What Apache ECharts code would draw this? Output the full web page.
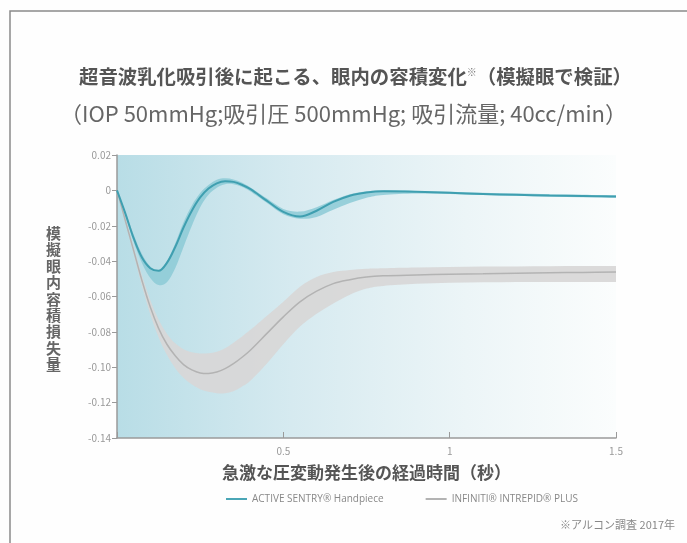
<!DOCTYPE html>
<html>
<head>
<meta charset="utf-8">
<script src="https://cdn.jsdelivr.net/npm/echarts@6/dist/echarts.min.js"></script>
<style>html,body{margin:0;padding:0;background:#fefefe;}#c{width:687px;height:543px;}</style>
</head>
<body>
<div id="c"></div>
<script>
// time (s)
var T = [0, 0.025, 0.05, 0.075, 0.1, 0.125, 0.15, 0.175, 0.2, 0.225, 0.25, 0.275, 0.3, 0.325, 0.35, 0.375, 0.4, 0.45, 0.5, 0.55, 0.6, 0.65, 0.7, 0.75, 0.8, 0.9, 1.0, 1.1, 1.2, 1.3, 1.4, 1.5];
// ACTIVE SENTRY
var activeMean  = [0, -0.013, -0.027, -0.038, -0.044, -0.0455, -0.041, -0.032, -0.021, -0.0115, -0.004, 0.001, 0.004, 0.0052, 0.0048, 0.0032, 0.0008, -0.0058, -0.0122, -0.0148, -0.0115, -0.0065, -0.003, -0.0012, -0.0005, -0.0008, -0.0014, -0.002, -0.0025, -0.0029, -0.0032, -0.0035];
var activeUpper = [0, -0.012, -0.025, -0.036, -0.043, -0.045, -0.04, -0.03, -0.018, -0.0085, -0.0015, 0.003, 0.006, 0.0068, 0.0062, 0.0045, 0.0018, -0.0045, -0.0105, -0.012, -0.0095, -0.0055, -0.0022, -0.0005, 0.0, -0.0003, -0.0008, -0.0013, -0.0018, -0.0022, -0.0025, -0.0028];
var activeLower = [0, -0.014, -0.029, -0.041, -0.0495, -0.0535, -0.052, -0.044, -0.032, -0.02, -0.0095, -0.0025, 0.0015, 0.0035, 0.0035, 0.002, -0.0005, -0.007, -0.0135, -0.016, -0.015, -0.011, -0.0072, -0.0042, -0.0026, -0.0018, -0.002, -0.0026, -0.0031, -0.0036, -0.0039, -0.0042];
// INFINITI INTREPID PLUS
var intrepidMean  = [0, -0.017, -0.034, -0.051, -0.066, -0.078, -0.087, -0.0935, -0.0985, -0.1015, -0.1032, -0.1035, -0.1027, -0.1008, -0.098, -0.0945, -0.0905, -0.081, -0.0715, -0.063, -0.057, -0.0527, -0.0505, -0.049, -0.0483, -0.0478, -0.0474, -0.0471, -0.0468, -0.0466, -0.0464, -0.0462];
var intrepidUpper = [0, -0.016, -0.032, -0.048, -0.062, -0.073, -0.081, -0.0865, -0.0898, -0.0915, -0.0922, -0.0921, -0.0912, -0.0893, -0.0862, -0.0828, -0.079, -0.071, -0.063, -0.0545, -0.049, -0.0462, -0.045, -0.0443, -0.044, -0.0436, -0.0433, -0.0431, -0.043, -0.0429, -0.0428, -0.0428];
var intrepidLower = [0, -0.018, -0.036, -0.054, -0.070, -0.083, -0.093, -0.1005, -0.106, -0.1098, -0.1124, -0.1139, -0.1147, -0.1147, -0.1135, -0.111, -0.1078, -0.098, -0.087, -0.077, -0.0698, -0.064, -0.059, -0.0555, -0.054, -0.0528, -0.0522, -0.052, -0.0518, -0.0518, -0.0518, -0.0518];

var seriesNames = ['ACTIVE SENTRY® Handpiece', 'INFINITI® INTREPID® PLUS'];

function pairs(a) { return T.map(function (t, i) { return [t, a[i]]; }); }

// cubic path through pixel points (Catmull-Rom style)
function curveTo(pts, first) {
  var d = first ? 'M' + pts[0][0] + ',' + pts[0][1] : 'L' + pts[0][0] + ',' + pts[0][1];
  for (var i = 0; i < pts.length - 1; i++) {
    var p0 = pts[i - 1] || pts[i], p1 = pts[i], p2 = pts[i + 1], p3 = pts[i + 2] || pts[i + 1];
    var c1 = [p1[0] + (p2[0] - p0[0]) / 6, p1[1] + (p2[1] - p0[1]) / 6];
    var c2 = [p2[0] - (p3[0] - p1[0]) / 6, p2[1] - (p3[1] - p1[1]) / 6];
    d += 'C' + c1[0] + ',' + c1[1] + ',' + c2[0] + ',' + c2[1] + ',' + p2[0] + ',' + p2[1];
  }
  return d;
}
function bandSeries(upper, lower, color, opacity) {
  return {
    type: 'custom', silent: true, data: [[0, 0]],
    renderItem: function (params, api) {
      var up = T.map(function (t, i) { return api.coord([t, upper[i]]); });
      var lo = T.map(function (t, i) { return api.coord([t, lower[i]]); }).reverse();
      var d = curveTo(up, true) + curveTo(lo, false) + 'Z';
      return { type: 'path', shape: { pathData: d }, style: { fill: color, opacity: opacity, stroke: null } };
    }
  };
}

var FONT = '"Noto Sans CJK JP", "Noto Sans", sans-serif';
var chart = echarts.init(document.getElementById('c'));
var SM = 0.35;
chart.setOption({
  backgroundColor: '#fefefe',
  animation: false,
  textStyle: { fontFamily: FONT },
  title: [{
    text: '超音波乳化吸引後に起こる、眼内の容積変化{s|※}（模擬眼で検証）',
    left: 74, top: 62,
    textStyle: { fontSize: 19.4, fontWeight: 'bold', color: '#555', fontFamily: FONT,
      rich: { s: { fontSize: 10, verticalAlign: 'top', color: '#777', padding: [0, 0, 10, 0] } } }
  }, {
    text: '（IOP 50mmHg;吸引圧 500mmHg; 吸引流量; 40cc/min）',
    left: 'center', top: 98,
    textStyle: { fontSize: 22, fontWeight: 'normal', color: '#666', fontFamily: FONT }
  }],
  legend: {
    data: seriesNames,
    top: 489, left: 221,
    icon: 'rect', itemWidth: 21, itemHeight: 2, itemGap: 42,
    textStyle: { fontSize: 10, color: '#888', fontFamily: '"Open Sans", sans-serif' }
  },
  grid: {
    left: 117, right: 71, top: 155, bottom: 105, show: true, borderWidth: 0,
    backgroundColor: new echarts.graphic.LinearGradient(0, 0, 1, 0, [
      { offset: 0, color: '#b8dde6' },
      { offset: 0.35, color: '#d6eaf0' },
      { offset: 0.7, color: '#ecf5f7' },
      { offset: 1, color: '#fbfdfd' }
    ])
  },
  xAxis: {
    type: 'value', min: 0, max: 1.5, interval: 0.5,
    name: '急激な圧変動発生後の経過時間（秒）', nameLocation: 'middle', nameGap: 26,
    nameTextStyle: { fontSize: 17, fontWeight: 'bold', color: '#555', fontFamily: FONT },
    axisLine: { onZero: false, lineStyle: { color: '#9a9a9a', width: 1.5 } },
    axisTick: { inside: true, length: 6, lineStyle: { color: '#9a9a9a' } },
    axisLabel: { fontSize: 10, color: '#999', margin: 8, formatter: function (v) { return v === 0 ? '' : String(v); } },
    splitLine: { show: false }
  },
  yAxis: {
    type: 'value', min: -0.14, max: 0.02, interval: 0.02,
    axisLine: { show: true, lineStyle: { color: '#9a9a9a', width: 1.5 } },
    axisTick: { show: true, length: 5, lineStyle: { color: '#9a9a9a' } },
    axisLabel: { fontSize: 10, color: '#999', margin: 6, formatter: function (v) { return Math.abs(v) < 1e-9 ? '0' : v.toFixed(2); } },
    splitLine: { show: false }
  },
  graphic: [
    { type: 'polyline', shape: { points: [[10, 543], [10, 11], [687, 11]] }, style: { stroke: '#8a8a8a', lineWidth: 1.5, fill: null } },
    { type: 'text', left: 46, top: 225, style: { text: '模\n擬\n眼\n内\n容\n積\n損\n失\n量', fontSize: 15, lineHeight: 16.4, fontWeight: 'bold', fill: '#666', fontFamily: FONT } },
    { type: 'text', right: 12, top: 519, style: { text: '※アルコン調査 2017年', fontSize: 11, fill: '#888', fontFamily: FONT } }
  ],
  series: [
    bandSeries(intrepidUpper, intrepidLower, '#d8d7d7', 0.92),
    bandSeries(activeUpper, activeLower, '#8ccad6', 0.85),
    { name: seriesNames[1], type: 'line', data: pairs(intrepidMean), smooth: SM, showSymbol: false, color: '#b3b3b3', lineStyle: { color: '#b3b3b3', width: 1.5 } },
    { name: seriesNames[0], type: 'line', data: pairs(activeMean), smooth: SM, showSymbol: false, color: '#4aa6b6', lineStyle: { color: '#3f9fb0', width: 2 } }
  ]
});
</script>
</body>
</html>
